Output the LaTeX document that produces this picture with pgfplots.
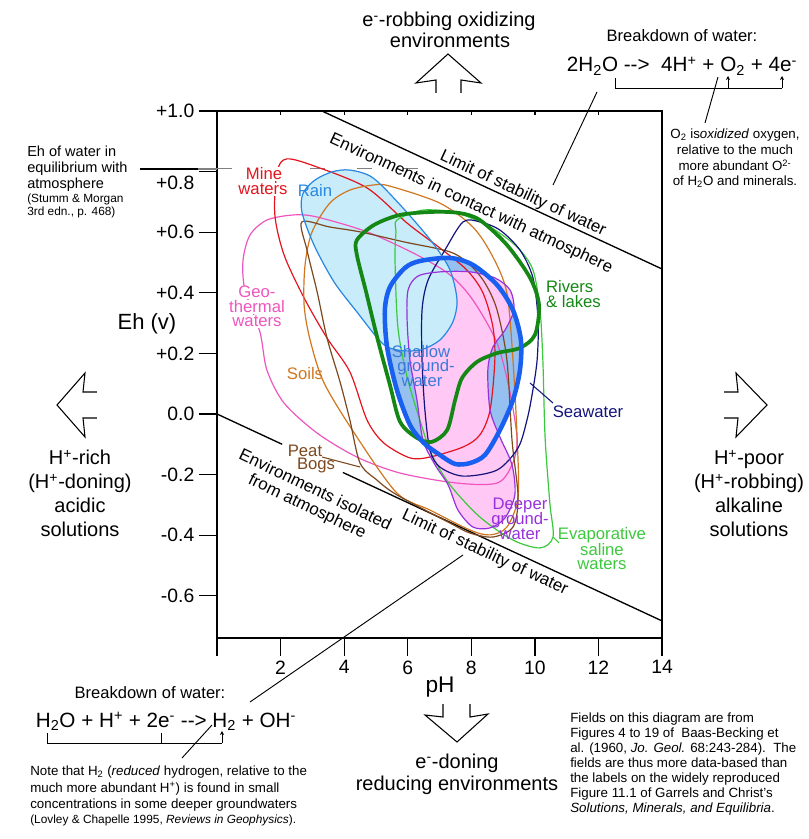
\documentclass[border=0pt]{standalone}
\usepackage{pgfplots}
\usepackage{pgfplotstable}
\pgfplotsset{compat=1.18}
\usepackage{fontspec}
\setmainfont{Liberation Sans}
\usetikzlibrary{arrows.meta}

\definecolor{cMine}{RGB}{228,20,30}
\definecolor{cRain}{RGB}{40,135,225}
\definecolor{cRainF}{RGB}{200,236,250}
\definecolor{cGeo}{RGB}{238,85,190}
\definecolor{cSoil}{RGB}{208,118,30}
\definecolor{cPeat}{RGB}{125,72,30}
\definecolor{cRiver}{RGB}{20,135,20}
\definecolor{cShal}{RGB}{25,95,240}
\definecolor{cShalT}{RGB}{58,122,216}
\definecolor{cShalF}{RGB}{150,192,240}
\definecolor{cSea}{RGB}{20,20,125}
\definecolor{cDeep}{RGB}{150,50,220}
\definecolor{cDeepF}{RGB}{255,200,245}
\definecolor{cEvap}{RGB}{60,200,60}

\newcommand\fbig{\fontsize{15}{17}\selectfont}
\newcommand\feq{\fontsize{15.5}{17}\selectfont}
\newcommand\flab{\fontsize{12.5}{12}\selectfont}
\newcommand\fline{\fontsize{12.7}{13.5}\selectfont}
\newcommand\fmid{\fontsize{12.4}{14}\selectfont}
\newcommand\fnote{\fontsize{10}{12}\selectfont}
\newcommand\fsmall{\fontsize{8.9}{10}\selectfont}

% Rain
\pgfplotstableread{
x y
4.18 0.805
4.91 0.779
5.85 0.680
6.79 0.564
7.33 0.475
7.55 0.376
7.42 0.304
7.01 0.244
6.39 0.211
5.69 0.211
5.19 0.234
4.40 0.337
3.68 0.436
3.05 0.558
2.67 0.667
2.71 0.729
3.08 0.772
3.62 0.799
}\tRain
% Mine waters
\pgfplotstableread{
x y
2.20 0.842
3.15 0.815
4.72 0.746
5.98 0.630
7.01 0.548
7.86 0.475
8.37 0.399
8.68 0.287
8.74 0.178
8.59 0.013
8.27 -0.069
7.74 -0.109
6.70 -0.142
6.07 -0.145
5.25 -0.096
4.72 -0.020
4.18 0.139
3.46 0.251
2.74 0.383
2.11 0.525
1.82 0.657
1.89 0.799
}\tMine
% Geothermal waters
\pgfplotstableread{
x y
1.04 0.591
1.57 0.640
2.42 0.657
3.15 0.650
4.72 0.601
6.29 0.525
7.33 0.459
8.05 0.376
8.81 0.234
9.22 0.069
9.44 -0.086
9.28 -0.168
8.81 -0.228
7.55 -0.228
5.76 -0.195
4.40 -0.142
3.15 -0.063
2.11 0.036
1.57 0.145
1.35 0.271
0.88 0.409
0.82 0.508
}\tGeo
% Soils
\pgfplotstableread{
x y
4.94 0.756
5.44 0.752
7.01 0.696
8.05 0.617
8.68 0.518
9.12 0.399
9.31 0.178
9.44 -0.076
9.47 -0.274
9.12 -0.373
8.59 -0.399
7.96 -0.383
6.70 -0.317
5.66 -0.261
4.40 -0.076
3.37 0.102
2.93 0.244
2.74 0.360
2.77 0.492
2.99 0.601
3.55 0.696
4.18 0.739
}\tSoil
% Peat bogs
\pgfplotstableread{
x y
2.67 0.634
3.55 0.617
4.50 0.601
5.88 0.568
7.33 0.535
7.96 0.492
8.43 0.432
8.81 0.343
9.12 0.178
9.28 -0.086
9.47 -0.274
9.31 -0.373
8.68 -0.406
7.96 -0.393
7.33 -0.360
5.66 -0.267
5.03 -0.218
4.50 -0.162
4.18 -0.020
3.87 0.106
3.46 0.251
3.15 0.403
2.83 0.541
}\tPeat
% Rivers & lakes
\pgfplotstableread{
x y
4.40 0.574
4.94 0.624
5.76 0.657
6.83 0.667
7.64 0.663
8.27 0.640
9.12 0.558
9.85 0.449
10.13 0.360
10.00 0.261
9.53 0.218
8.81 0.201
8.18 0.172
7.71 0.119
7.49 0.046
7.24 -0.053
6.76 -0.092
6.29 -0.079
5.76 -0.026
5.44 0.096
5.06 0.244
4.69 0.403
4.40 0.525
}\tRiver
% Shallow groundwater
\pgfplotstableread{
x y
6.39 0.505
7.33 0.515
8.05 0.492
8.81 0.426
9.31 0.343
9.56 0.244
9.53 0.145
9.31 0.046
8.90 -0.053
8.43 -0.135
7.96 -0.162
7.49 -0.165
7.01 -0.135
6.51 -0.096
6.07 -0.036
5.66 0.079
5.35 0.221
5.28 0.343
5.44 0.419
5.91 0.482
}\tShal
% Deeper groundwater
\pgfplotstableread{
x y
6.32 0.455
7.01 0.469
7.96 0.469
8.74 0.449
9.22 0.409
9.34 0.343
9.06 0.277
8.68 0.221
8.52 0.145
8.59 0.013
8.90 -0.076
9.28 -0.168
9.37 -0.267
9.06 -0.343
8.59 -0.376
8.05 -0.373
7.58 -0.317
7.27 -0.234
6.86 -0.168
6.48 -0.086
6.29 0.046
6.07 0.178
5.98 0.310
6.01 0.409
}\tDeep
% Seawater
\pgfplotstableread{
x y
7.74 0.634
8.27 0.634
8.90 0.607
9.53 0.541
9.94 0.449
10.10 0.310
10.07 0.178
9.91 0.063
9.75 -0.020
9.47 -0.112
8.81 -0.185
7.74 -0.205
7.01 -0.175
6.70 -0.119
6.54 0.013
6.45 0.178
6.45 0.343
6.64 0.442
7.17 0.541
}\tSea
% Evaporative saline waters
\pgfplotstableread{
x y
5.66 0.640
6.48 0.673
7.55 0.663
8.59 0.617
9.44 0.551
9.94 0.475
10.16 0.343
10.25 0.178
10.32 -0.076
10.47 -0.294
10.57 -0.406
10.16 -0.442
9.31 -0.416
8.27 -0.340
7.33 -0.234
6.76 -0.135
6.48 -0.053
5.98 0.122
5.69 0.287
5.60 0.508
5.63 0.601
}\tEvap

\begin{document}
\begin{tikzpicture}
\begin{axis}[
  x=23.8425pt, y=227.25pt,
  xmin=0, xmax=14, ymin=-0.739, ymax=1.0,
  clip=false,
  axis line style={line width=1pt},
  xtick={0,2,4,6,8,10,12,14},
  xticklabels={,2,4,6,8,10,12,14},
  ytick={-0.6,-0.4,-0.2,0,0.2,0.4,0.6,0.8,1.0},
  yticklabels={-0.6,-0.4,-0.2,0.0,+0.2,+0.4,+0.6,\raisebox{-13.4pt}[0pt][0pt]{+0.8},+1.0},
  xtick pos=lower, ytick pos=lower, tick align=outside,
  major tick length=13.5pt,
  tick style={black, line width=0.9pt},
  ticklabel style={font=\fontsize{14.5}{16}\selectfont},
  /pgf/number format/assume math mode=true,
]
\coordinate (TL) at (axis cs:-6.826,1.3663);

% fills
\addplot[draw=none, fill=cShalF, smooth cycle] table {\tShal};
\addplot[draw=none, fill=cDeepF, smooth cycle] table {\tDeep};
\addplot[draw=none, fill=cRainF, smooth cycle] table {\tRain};

% reference lines
\addplot[black, line width=1pt] coordinates {(3.30,1.0) (14,0.4785)};
\addplot[black, line width=1pt] coordinates {(0,0) (2.05,-0.100)};
\addplot[black, line width=1pt] coordinates {(3.96,-0.193) (14,-0.683)};
\addplot[gray, line width=0.8pt, dash pattern=on 11pt off 24pt] coordinates {(0,0.809) (6.8,0.809)};

% outlines
\addplot[draw=cGeo, line width=0.9pt, smooth cycle] table {\tGeo};
\addplot[draw=cMine, line width=0.9pt, smooth cycle] table {\tMine};
\addplot[draw=cSoil, line width=0.9pt, smooth cycle] table {\tSoil};
\addplot[draw=cPeat, line width=0.9pt, smooth cycle] table {\tPeat};
\addplot[draw=cEvap, line width=0.9pt, smooth cycle] table {\tEvap};
\addplot[draw=cSea, line width=0.9pt, smooth cycle] table {\tSea};
\addplot[draw=cDeep, line width=0.9pt, smooth cycle] table {\tDeep};
\addplot[draw=cRain, line width=0.9pt, smooth cycle] table {\tRain};
\addplot[draw=cRiver, line width=2.8pt, smooth cycle] table {\tRiver};
\addplot[draw=cShal, line width=3.4pt, smooth cycle] table {\tShal};
\end{axis}

\begin{scope}[shift={(TL)}, x=0.75pt, y=-0.75pt]
% top inner ticks
\foreach \t in {280.6,344.2,407.7,471.3,534.9,598.5}{\draw[line width=0.9pt] (\t,111) -- (\t,115);}

% Eh of water line
\draw[line width=0.8pt] (140,169) -- (198,169);
\draw[gray, line width=0.8pt] (198,169) -- (217,169);

% axis titles
\node[font=\fontsize{17}{18}\selectfont, anchor=base] at (440,692) {pH};
\node[font=\fontsize{16.5}{18}\selectfont, anchor=base] at (147,330) {Eh (v)};

% chart labels
\begin{scope}[every node/.style={font=\flab, anchor=base, inner sep=0.6pt}]
\node[text=cMine, fill=white] at (264,180) {Mine};
\node[text=cMine, fill=white] at (263,195) {waters};
\node[text=cRain] at (315,197) {Rain};
\node[text=cGeo, fill=white] at (257,298) {Geo-};
\node[text=cGeo, fill=white] at (257,313) {thermal};
\node[text=cGeo, fill=white] at (257,327) {waters};
\node[text=cSoil] at (305,380) {Soils};
\node[text=cPeat] at (305,457) {Peat};
\node[text=cPeat] at (316,470) {Bogs};
\node[text=cShalT] at (421,358) {Shallow};
\node[text=cShalT] at (426,372) {ground-};
\node[text=cShalT] at (422,387) {water};
\node[text=cRiver, anchor=base west] at (545,293) {Rivers};
\node[text=cRiver, anchor=base west] at (545,308) {\& lakes};
\node[text=cSea] at (588,418) {Seawater};
\node[text=cDeep] at (520,510) {Deeper};
\node[text=cDeep] at (520,525) {ground-};
\node[text=cDeep] at (520,540) {water};
\node[text=cEvap] at (602,540) {Evaporative};
\node[text=cEvap] at (602,556) {saline};
\node[text=cEvap] at (602,570) {waters};
\end{scope}
\draw[cPeat, line width=0.8pt] (322,457) -- (360,467);
\draw[cSea, line width=0.8pt] (530,383) -- (553,403);
\draw[cEvap, line width=0.8pt] (553,537) -- (559,543);

% rotated texts along lines
\node[font=\fline, rotate=-24.9] at (523,194) {Limit of stability of water};
\node[font=\fline, rotate=-24.9] at (471,204) {Environments in contact with atmosphere};
\node[font=\fline, rotate=-25.5, align=center] at (311,499) {Environments isolated\\from atmosphere};
\node[font=\fline, rotate=-24.9] at (485,553) {Limit of stability of water};

% arrows
\draw[line width=0.8pt, line join=miter] (436,93) -- (436,80) -- (416,83) -- (448,54) -- (481,83) -- (461,80) -- (461,93);
\draw[line width=0.8pt, line join=miter] (443,704) -- (443,717) -- (425,715) -- (457,742) -- (488,714) -- (470,717) -- (470,704);
\draw[line width=0.8pt, line join=miter] (97,392) -- (83,392) -- (85,373) -- (57,405) -- (85,437) -- (83,418) -- (97,418);
\draw[line width=0.8pt, line join=miter] (724,392) -- (738,392) -- (736,373) -- (767,405) -- (736,437) -- (738,418) -- (724,418);

% arrow texts
\begin{scope}[every node/.style={font=\fbig, anchor=base, inner sep=0pt}]
\node at (449,27) {e\textsuperscript{-}-robbing oxidizing};
\node at (450,48) {environments};
\node at (457,768) {e\textsuperscript{-}-doning};
\node at (457,790) {reducing environments};
\node at (80,465) {H\textsuperscript{+}-rich};
\node at (80,489) {(H\textsuperscript{+}-doning)};
\node at (80,513) {acidic};
\node at (80,537) {solutions};
\node at (749,465) {H\textsuperscript{+}-poor};
\node at (749,489) {(H\textsuperscript{+}-robbing)};
\node at (749,513) {alkaline};
\node at (749,537) {solutions};
\end{scope}

% top-right annotation
\node[font=\fmid, anchor=base] at (682,42) {Breakdown of water:};
\node[font=\feq, anchor=base] at (682,72) {2H\textsubscript{2}O -{}-{}>\ \ 4H\textsuperscript{+} + O\textsubscript{2} + 4e\textsuperscript{-}};
\draw[line width=0.7pt] (615,78) -- (615,88) -- (782,88);
\draw[line width=0.7pt, -{Stealth[length=3pt,width=3pt]}] (782,88) -- (782,76);
\draw[line width=0.7pt, -{Stealth[length=3pt,width=3pt]}] (728,88) -- (728,76);
\draw[line width=0.7pt] (718,77) -- (705,123);
\draw[line width=0.7pt] (597,92) -- (553,185);
\begin{scope}[every node/.style={font=\fnote, anchor=base, inner sep=0pt}]
\node at (735,139) {O\textsubscript{2} is\textit{oxidized} oxygen,};
\node at (735,155) {relative to the much};
\node at (735,171) {more abundant O\textsuperscript{2-}};
\node at (735,186) {of H\textsubscript{2}O and minerals.};
\end{scope}

% left annotation
\begin{scope}[every node/.style={anchor=base west, inner sep=0pt}]
\node[font=\fontsize{10.9}{12}\selectfont] at (27,157) {Eh of water in};
\node[font=\fontsize{10.9}{12}\selectfont] at (27,173) {equilibrium with};
\node[font=\fontsize{10.9}{12}\selectfont] at (27,189) {atmosphere};
\node[font=\fsmall] at (27,203) {(Stumm \& Morgan};
\node[font=\fsmall] at (27,216) {3rd edn., p. 468)};
\end{scope}

% bottom-left annotation
\node[font=\fmid, anchor=base] at (150,698) {Breakdown of water:};
\node[font=\feq, anchor=base] at (166,727) {H\textsubscript{2}O + H\textsuperscript{+} + 2e\textsuperscript{-} -{}-{}> H\textsubscript{2} + OH\textsuperscript{-}};
\draw[line width=0.7pt] (47,733) -- (47,743) -- (222,743);
\draw[line width=0.7pt, -{Stealth[length=3pt,width=3pt]}] (222,743) -- (222,731);
\draw[line width=0.7pt] (161,733) -- (161,743);
\draw[line width=0.7pt] (182,758) -- (212,725);
\draw[line width=0.7pt] (250,702) -- (463,555);
\begin{scope}[every node/.style={anchor=base west, inner sep=0pt, font=\fnote}]
\node at (30,775) {Note that H\textsubscript{2} (\textit{reduced} hydrogen, relative to the};
\node at (30,792) {much more abundant H\textsuperscript{+}) is found in small};
\node at (30,808) {concentrations in some deeper groundwaters};
\node[font=\fsmall] at (30,823) {(Lovley \& Chapelle 1995, \textit{Reviews in Geophysics}).};
\end{scope}

% bottom-right annotation
\begin{scope}[every node/.style={anchor=base west, inner sep=0pt, font=\fnote}]
\node at (570,722) {Fields on this diagram are from};
\node at (570,737) {Figures 4 to 19 of\ \ Baas-Becking et};
\node at (570,752) {al. (1960, \textit{Jo. Geol.} 68:243-284).\ \ The};
\node at (570,767) {fields are thus more data-based than};
\node at (570,782) {the labels on the widely reproduced};
\node at (570,797) {Figure 11.1 of Garrels and Christ's};
\node at (570,812) {\textit{Solutions, Minerals, and Equilibria}.};
\end{scope}

\pgfresetboundingbox
\path (0,0) rectangle (809,839);
\end{scope}
\end{tikzpicture}
\end{document}
